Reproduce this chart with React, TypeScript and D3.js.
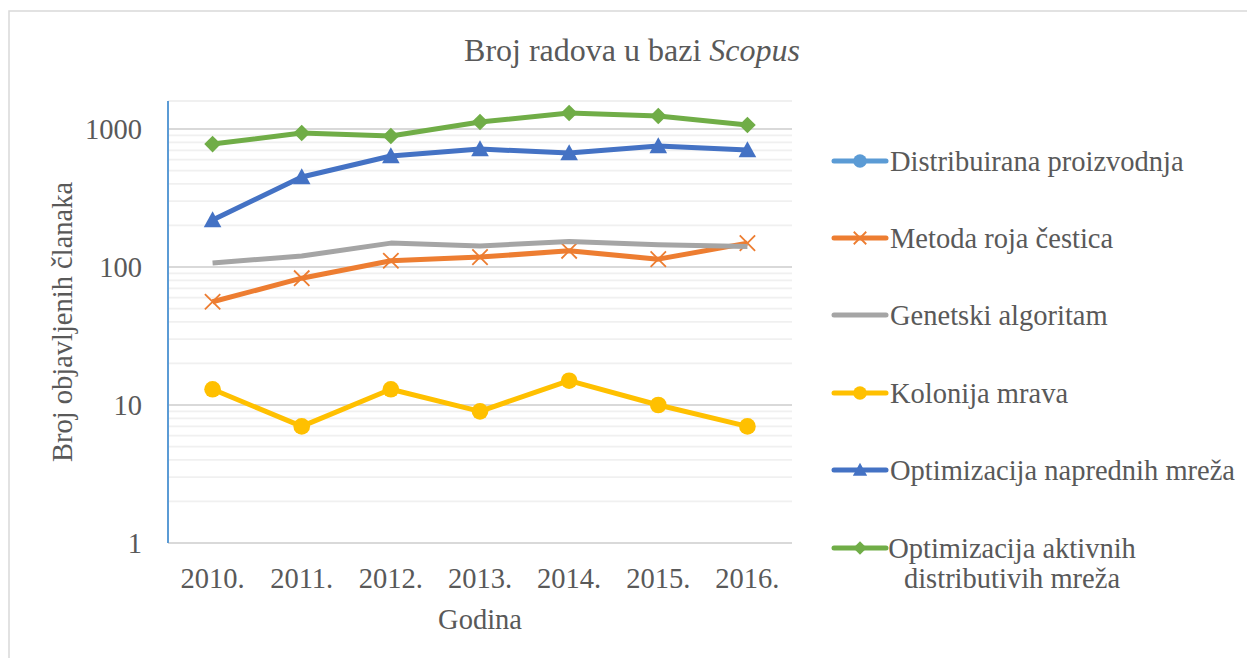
import { useRef, useEffect } from 'react';
import * as d3 from 'd3';

const years = ['2010.', '2011.', '2012.', '2013.', '2014.', '2015.', '2016.'];

const distribuirana: (number | null)[] = [null, null, null, null, null, null, null];
const metodaRoja = [56, 83, 111, 118, 131, 114, 149];
const genetski = [107, 120, 149, 142, 153, 145, 141];
const kolonijaMrava = [13, 7, 13, 9, 15, 10, 7];
const optNaprednih = [219, 449, 637, 716, 670, 753, 704];
const optAktivnih = [778, 936, 890, 1124, 1306, 1242, 1069];

const seriesNames = [
  'Distribuirana proizvodnja',
  'Metoda roja čestica',
  'Genetski algoritam',
  'Kolonija mrava',
  'Optimizacija naprednih mreža',
  'Optimizacija aktivnih distributivih mreža',
];
const yTicks = [1, 10, 100, 1000];

const App = () => {
  const svgRef = useRef<SVGSVGElement>(null);

  useEffect(() => {
    const svg = d3.select(svgRef.current);
    svg.selectAll('*').remove();

    const font = '"Liberation Serif", "Times New Roman", serif';
    const textColor = '#595959';
    const left = 168, right = 792, top = 101, bottom = 543;

    const series = [
      { name: seriesNames[0], values: distribuirana, color: '#5B9BD5', marker: 'circle' },
      { name: seriesNames[1], values: metodaRoja, color: '#ED7D31', marker: 'x' },
      { name: seriesNames[2], values: genetski, color: '#A5A5A5', marker: 'none' },
      { name: seriesNames[3], values: kolonijaMrava, color: '#FFC000', marker: 'circle' },
      { name: seriesNames[4], values: optNaprednih, color: '#4472C4', marker: 'triangle' },
      { name: seriesNames[5], values: optAktivnih, color: '#70AD47', marker: 'diamond' },
    ];

    // outer chart border
    svg.append('rect')
      .attr('x', 9).attr('y', 11)
      .attr('width', 1260).attr('height', 680)
      .attr('fill', '#fff')
      .attr('stroke', '#D9D9D9')
      .attr('stroke-width', 1.5);

    const x = d3.scaleBand()
      .domain(years)
      .range([left, right]);

    const y = d3.scaleLog()
      .domain([1, 1596])
      .range([bottom, top]);

    // minor gridlines
    const minor: number[] = [];
    [1, 10, 100, 1000].forEach(d => {
      for (let k = 2; k <= 9; k++) if (d * k < 1596) minor.push(d * k);
    });
    minor.push(1596);
    svg.append('g').selectAll('line')
      .data(minor)
      .enter()
      .append('line')
      .attr('x1', left).attr('x2', right)
      .attr('y1', d => y(d)).attr('y2', d => y(d))
      .attr('stroke', '#F0F0F0')
      .attr('stroke-width', 1.8);

    // major gridlines
    svg.append('g').selectAll('line')
      .data(yTicks)
      .enter()
      .append('line')
      .attr('x1', left).attr('x2', right)
      .attr('y1', d => y(d)).attr('y2', d => y(d))
      .attr('stroke', '#D9D9D9')
      .attr('stroke-width', 1.8);

    // y axis line
    svg.append('line')
      .attr('x1', left).attr('x2', left)
      .attr('y1', top).attr('y2', bottom)
      .attr('stroke', '#5B9BD5')
      .attr('stroke-width', 2);

    // y tick labels
    svg.append('g').selectAll('text')
      .data(yTicks)
      .enter()
      .append('text')
      .attr('x', 142)
      .attr('y', d => y(d) + 10)
      .attr('text-anchor', 'end')
      .style('font-family', font)
      .style('font-size', '28.5px')
      .attr('fill', textColor)
      .text(d => d);

    // x tick labels
    svg.append('g').selectAll('text')
      .data(years)
      .enter()
      .append('text')
      .attr('x', d => x(d)! + x.bandwidth() / 2)
      .attr('y', 588)
      .attr('text-anchor', 'middle')
      .style('font-family', font)
      .style('font-size', '28.5px')
      .attr('fill', textColor)
      .text(d => d);

    const cx = (i: number) => x(years[i])! + x.bandwidth() / 2;

    const drawMarker = (g: any, kind: string, px: number, py: number, color: string, s: number) => {
      if (kind === 'circle') {
        g.append('circle').attr('cx', px).attr('cy', py).attr('r', s * 0.52).attr('fill', color);
      } else if (kind === 'triangle') {
        const h = s;
        g.append('path')
          .attr('d', `M${px},${py - h * 0.55}L${px + h * 0.55},${py + h * 0.45}L${px - h * 0.55},${py + h * 0.45}Z`)
          .attr('fill', color);
      } else if (kind === 'diamond') {
        const h = s * 0.52;
        g.append('path')
          .attr('d', `M${px},${py - h}L${px + h},${py}L${px},${py + h}L${px - h},${py}Z`)
          .attr('fill', color);
      } else if (kind === 'x') {
        const h = s * 0.48;
        g.append('path')
          .attr('d', `M${px - h},${py - h}L${px + h},${py + h}M${px - h},${py + h}L${px + h},${py - h}`)
          .attr('stroke', color)
          .attr('stroke-width', 1.8)
          .attr('fill', 'none');
      }
    };

    const line = d3.line<number | null>()
      .defined(d => d != null)
      .x((_, i) => cx(i))
      .y(d => y(d as number));

    series.forEach(s => {
      const g = svg.append('g');
      g.append('path')
        .datum(s.values)
        .attr('d', line)
        .attr('fill', 'none')
        .attr('stroke', s.color)
        .attr('stroke-width', 5)
        .attr('stroke-linejoin', 'round');
      s.values.forEach((v, i) => {
        if (v != null) drawMarker(g, s.marker, cx(i), y(v), s.color, 16);
      });
    });

    // legend
    const legendY = [161, 238, 315, 393, 470, 548];
    series.forEach((s, i) => {
      const g = svg.append('g');
      const ly = legendY[i];
      g.append('line')
        .attr('x1', 834).attr('x2', 886)
        .attr('y1', ly).attr('y2', ly)
        .attr('stroke', s.color)
        .attr('stroke-width', 5)
        .attr('stroke-linecap', 'round');
      drawMarker(g, s.marker, 860, ly, s.color, 13);
      if (i === 5) {
        const t = g.append('text')
          .attr('text-anchor', 'middle')
          .style('font-family', font)
          .style('font-size', '28.5px')
          .attr('fill', textColor);
        t.append('tspan').attr('x', 1012).attr('y', ly + 10).text('Optimizacija aktivnih');
        t.append('tspan').attr('x', 1012).attr('y', ly + 40).text('distributivih mreža');
      } else {
        g.append('text')
          .attr('x', 890)
          .attr('y', ly + 10)
          .style('font-family', font)
          .style('font-size', '28.5px')
          .attr('fill', textColor)
          .text(s.name);
      }
    });

    // title
    const title = svg.append('text')
      .attr('x', 632)
      .attr('y', 61)
      .attr('text-anchor', 'middle')
      .style('font-family', font)
      .style('font-size', '32px')
      .attr('fill', textColor);
    title.append('tspan').text('Broj radova u bazi ');
    title.append('tspan').style('font-style', 'italic').text('Scopus');

    // axis titles
    svg.append('text')
      .attr('x', 480)
      .attr('y', 629)
      .attr('text-anchor', 'middle')
      .style('font-family', font)
      .style('font-size', '28.5px')
      .attr('fill', textColor)
      .text('Godina');

    svg.append('text')
      .attr('transform', `translate(72,${(top + bottom) / 2}) rotate(-90)`)
      .attr('text-anchor', 'middle')
      .style('font-family', font)
      .style('font-size', '28.5px')
      .attr('fill', textColor)
      .text('Broj objavljenih članaka');
  }, []);

  return (
    <svg
      ref={svgRef}
      width={1247}
      height={658}
      style={{ position: 'absolute', left: 0, top: 0, background: '#fff' }}
    />
  );
};

export default App;
